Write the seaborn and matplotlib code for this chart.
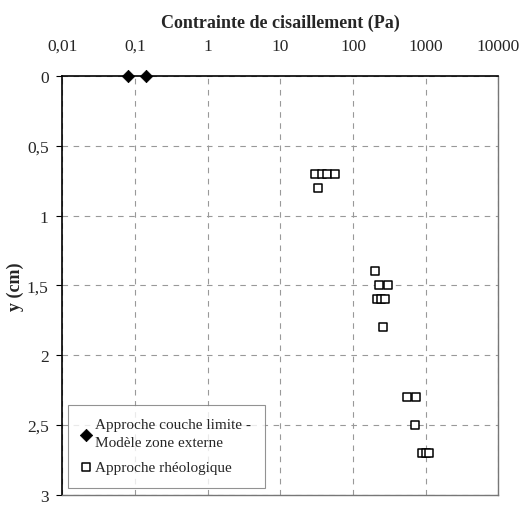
import pandas as pd
import matplotlib
matplotlib.use('Agg')
import matplotlib.pyplot as plt
import matplotlib.ticker as mticker
import seaborn as sns

# boundary layer approach (outer zone model)
bl_stress = [0.08, 0.14]
bl_depth = [0.0, 0.0]

# rheological approach
rh_stress = [30, 37, 44, 57, 33,
             200, 230, 300, 215, 245, 275, 260,
             550, 740, 720, 880, 1000, 1130]
rh_depth = [0.7, 0.7, 0.7, 0.7, 0.8,
            1.4, 1.5, 1.5, 1.6, 1.6, 1.6, 1.8,
            2.3, 2.3, 2.5, 2.7, 2.7, 2.7]

x_ticks = [0.01, 0.1, 1, 10, 100, 1000, 10000]
y_ticks = [0, 0.5, 1, 1.5, 2, 2.5, 3]

label_bl = 'Approche couche limite -\nModèle zone externe'
label_rh = 'Approche rhéologique'

sns.set_style('white')
plt.rcParams['font.family'] = ['Liberation Serif', 'DejaVu Serif']

df_bl = pd.DataFrame({'stress': bl_stress, 'depth': bl_depth})
df_rh = pd.DataFrame({'stress': rh_stress, 'depth': rh_depth})

fig = plt.figure(figsize=(5.25, 5.06), dpi=100)
ax = fig.add_axes([0.119, 0.02, 0.830, 0.828])

sns.scatterplot(data=df_rh, x='stress', y='depth', ax=ax, marker='s', s=30,
                facecolor='white', edgecolor='black', linewidth=1.1,
                label=label_rh, zorder=3)
sns.scatterplot(data=df_bl, x='stress', y='depth', ax=ax, marker='D', s=40,
                color='black', edgecolor='black', label=label_bl, zorder=4,
                clip_on=False)

ax.set_xscale('log')
ax.set_xlim(0.01, 10000)
ax.set_ylim(3, 0)
ax.xaxis.tick_top()
ax.xaxis.set_label_position('top')
ax.set_xticks(x_ticks)
ax.set_xticklabels([f'{v:g}'.replace('.', ',') for v in x_ticks])
ax.xaxis.set_minor_locator(mticker.NullLocator())
ax.set_yticks(y_ticks)
ax.set_yticklabels([f'{v:g}'.replace('.', ',') for v in y_ticks])
ax.tick_params(axis='both', labelsize=12.5, direction='out', length=4, width=0.8,
               color='black', pad=6)
ax.tick_params(axis='x', top=True, bottom=False, length=0, pad=16)
ax.tick_params(axis='y', left=True)

ax.set_xlabel('Contrainte de cisaillement (Pa)', fontsize=13, fontweight='bold', labelpad=8)
ax.set_ylabel('y (cm)', fontsize=13, fontweight='bold', labelpad=2)

ax.grid(True, which='major', linestyle=(0, (5, 5)), color='#999999', linewidth=0.8)
ax.set_axisbelow(True)

for side in ['top', 'left']:
    ax.spines[side].set_color('black')
    ax.spines[side].set_linewidth(1.2)
for side in ['bottom', 'right']:
    ax.spines[side].set_color('#777777')
    ax.spines[side].set_linewidth(1.0)

handles, labels = ax.get_legend_handles_labels()
order = [labels.index(label_bl), labels.index(label_rh)]
leg = ax.legend([handles[i] for i in order], [labels[i] for i in order],
                loc='lower left', bbox_to_anchor=(0.005, 0.01), fontsize=11,
                frameon=True, fancybox=False, edgecolor='#777777',
                handlelength=0.6, handletextpad=0.3, borderpad=0.9,
                labelspacing=0.7, borderaxespad=0.2)
leg.get_frame().set_linewidth(0.8)
for t in leg.get_texts():
    t.set_linespacing(1.5)

plt.savefig('out.png', dpi=100)
